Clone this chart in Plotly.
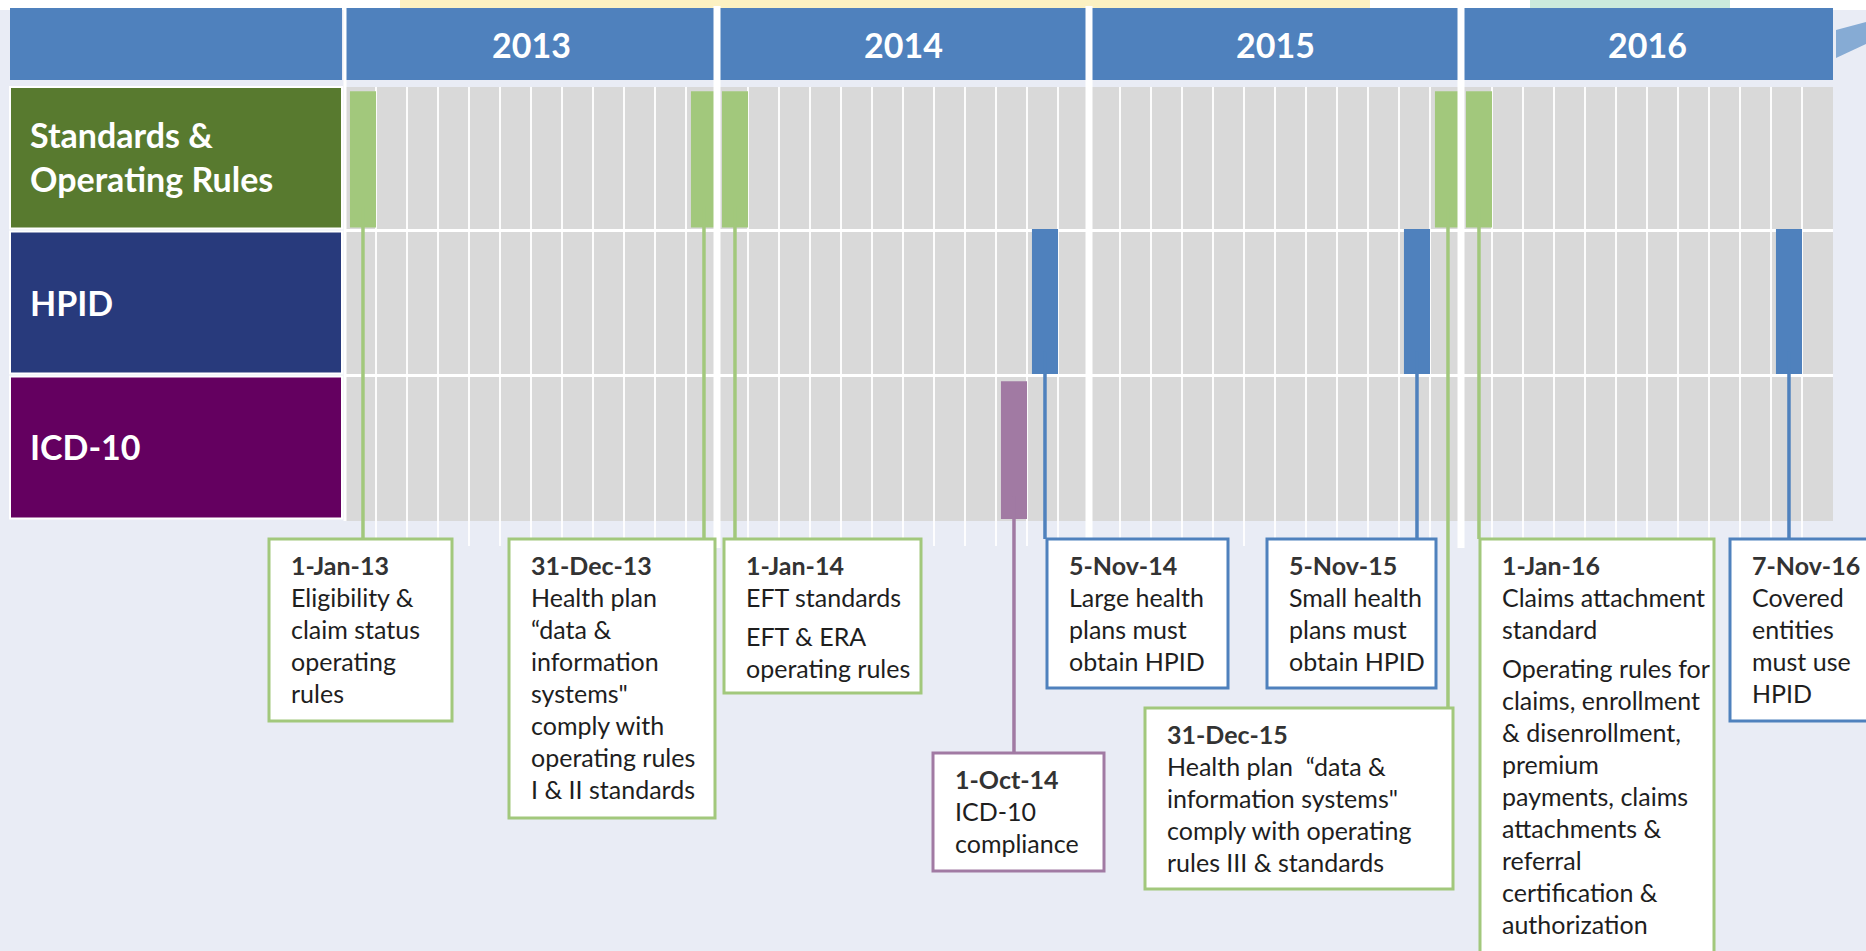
import plotly.graph_objects as go
from datetime import date

W, H = 1866, 951

# ---------------- data ----------------
years = [2013, 2014, 2015, 2016]
categories = ["Standards &<br>Operating Rules", "HPID", "ICD-10"]
category_colors = ["#587A2F", "#283A7C", "#640060"]
bar_colors = ["#A2C87C", "#4F81BD", "#A17AA3"]

event_dates = ["2013-01-01", "2013-12-31", "2014-01-01", "2014-10-01", "2014-11-05",
               "2015-11-05", "2015-12-31", "2016-01-01", "2016-11-07"]
event_labels = ["1-Jan-13", "31-Dec-13", "1-Jan-14", "1-Oct-14", "5-Nov-14",
                "5-Nov-15", "31-Dec-15", "1-Jan-16", "7-Nov-16"]
event_category = [0, 0, 0, 2, 1, 1, 0, 0, 1]
event_text = [
    [["Eligibility &", "claim status", "operating", "rules"]],
    [["Health plan", "\u201cdata &", "information", "systems\"", "comply with", "operating rules", "I & II standards"]],
    [["EFT standards"], ["EFT & ERA", "operating rules"]],
    [["ICD-10", "compliance"]],
    [["Large health", "plans must", "obtain HPID"]],
    [["Small health", "plans must", "obtain HPID"]],
    [["Health plan\u00a0 \u201cdata &", "information systems\"", "comply with operating", "rules III & standards"]],
    [["Claims attachment", "standard"],
     ["Operating rules for", "claims, enrollment", "& disenrollment,", "premium", "payments, claims",
      "attachments &", "referral", "certification &", "authorization"]],
    [["Covered", "entities", "must use", "HPID"]],
]

# ---------------- layout constants (pixels / styling) ----------------
X0_PX, PX_PER_MONTH = 345, 31          # Jan 2013 left edge, month width
ROW0_PX, ROW_PITCH = 158, 145           # first row centre, row pitch
HEADER_TOP, HEADER_BOT = 8, 80
GRID_TOP, GRID_BOT = 87, 521
LABEL_X0, LABEL_X1 = 10, 342
BAR_OFFSET, BAR_WIDTH = 0.58, 0.84      # bar centre within its month, bar width (months)
bar_top = [-0.46, -0.51, -0.46]         # bar top relative to row centre (rows)
bar_len = [0.94, 1.0, 0.95]
box_px = [(269, 539, 452, 721), (509, 539, 715, 818), (724, 539, 921, 693),
          (933, 753, 1104, 871), (1047, 539, 1228, 688), (1267, 539, 1436, 688),
          (1145, 708, 1453, 889), (1480, 539, 1714, 975), (1730, 539, 1885, 721)]
LINE_H, PARA_GAP, PAD_X, PAD_TOP = 32, 7, 20, 26

FONT = "Lato, Calibri, 'Open Sans', sans-serif"
BG = "#E9ECF5"


def px(xp):
    return xp / W


def py(yp):
    return 1 - yp / H


def month_index(d):
    dt = date.fromisoformat(d)
    return (dt.year - years[0]) * 12 + (dt.month - 1)


fig = go.Figure()
shapes = []
annotations = []

# background top strip and decorations
shapes.append(dict(type="rect", xref="paper", yref="paper", x0=0, x1=1, y0=py(0), y1=py(10),
                   fillcolor="white", line_width=0, layer="below"))
shapes.append(dict(type="rect", xref="paper", yref="paper", x0=px(400), x1=px(1370), y0=py(0), y1=py(10),
                   fillcolor="#FBEBA8", line_width=0, layer="below", opacity=0.7))
shapes.append(dict(type="rect", xref="paper", yref="paper", x0=px(1530), x1=px(1730), y0=py(0), y1=py(10),
                   fillcolor="#A8DCC4", line_width=0, layer="below", opacity=0.6))
shapes.append(dict(type="path", xref="paper", yref="paper",
                   path=f"M {px(1836)} {py(30)} L {px(1866)} {py(22)} L {px(1866)} {py(44)} L {px(1836)} {py(58)} Z",
                   fillcolor="#86ABD4", line_width=0, layer="below"))

# header: blank left cell + year cells
shapes.append(dict(type="rect", xref="paper", yref="paper", x0=px(LABEL_X0), x1=px(LABEL_X1),
                   y0=py(HEADER_TOP), y1=py(HEADER_BOT), fillcolor="#4F81BD", line_width=0, layer="below"))
for i, yr in enumerate(years):
    shapes.append(dict(type="rect", xref="x", yref="paper", x0=i * 12, x1=(i + 1) * 12,
                       y0=py(HEADER_TOP), y1=py(HEADER_BOT), fillcolor="#4F81BD", line_width=0, layer="below"))
    annotations.append(dict(x=i * 12 + 6, y=py((HEADER_TOP + HEADER_BOT) / 2), xref="x", yref="paper",
                            text=f"<b>{yr}</b>", showarrow=False, xanchor="center", yanchor="middle",
                            font=dict(family=FONT, size=34, color="white")))

# grid background
shapes.append(dict(type="rect", xref="x", yref="paper", x0=0, x1=len(years) * 12,
                   y0=py(GRID_TOP), y1=py(GRID_BOT), fillcolor="#D9D9D9", line_width=0, layer="below"))
# month lines
for m in range(1, len(years) * 12):
    if m % 12 == 0:
        continue
    shapes.append(dict(type="line", xref="x", yref="paper", x0=m, x1=m, y0=py(GRID_TOP), y1=py(546),
                       line=dict(color="rgba(255,255,255,0.9)", width=2), layer="below"))

# row label cells and horizontal row separators
for r, (cat, col) in enumerate(zip(categories, category_colors)):
    top = ROW0_PX + ROW_PITCH * r - ROW_PITCH / 2 + 1
    bot = ROW0_PX + ROW_PITCH * r + ROW_PITCH / 2 - 2
    top = max(top, GRID_TOP)
    bot = min(bot, GRID_BOT)
    shapes.append(dict(type="rect", xref="paper", yref="paper", x0=px(LABEL_X0), x1=px(LABEL_X1),
                       y0=py(top), y1=py(bot), fillcolor=col, line=dict(color="white", width=2), layer="below"))
    annotations.append(dict(x=px(28), y=py(ROW0_PX + ROW_PITCH * r - 1), xref="paper", yref="paper",
                            text=f"<b>{cat}</b>", showarrow=False, xanchor="left", yanchor="middle", align="left",
                            font=dict(family=FONT, size=34, color="white")))
    if r > 0:
        ysep = ROW0_PX + ROW_PITCH * r - ROW_PITCH / 2
        shapes.append(dict(type="line", xref="x", yref="paper", x0=0, x1=len(years) * 12,
                           y0=py(ysep), y1=py(ysep), line=dict(color="white", width=3), layer="below"))

# milestone bars (traces)
for c in range(len(categories)):
    xs = [month_index(d) + BAR_OFFSET for d, ec in zip(event_dates, event_category) if ec == c]
    fig.add_trace(go.Bar(x=xs, y=[bar_len[c]] * len(xs), base=[c + bar_top[c]] * len(xs), width=BAR_WIDTH,
                         marker=dict(color=bar_colors[c], line_width=0), showlegend=False,
                         hoverinfo="skip"))

# year separators (thick white)
for i in range(1, len(years)):
    shapes.append(dict(type="line", xref="x", yref="paper", x0=i * 12, x1=i * 12,
                       y0=py(HEADER_TOP - 2), y1=py(548), line=dict(color="white", width=7), layer="above"))
shapes.append(dict(type="line", xref="x", yref="paper", x0=0, x1=0,
                   y0=py(HEADER_TOP - 2), y1=py(GRID_BOT), line=dict(color="white", width=3), layer="above"))

# connectors, boxes, text
for k, d in enumerate(event_dates):
    c = event_category[k]
    col = bar_colors[c]
    bx0, by0, bx1, by1 = box_px[k]
    xm = month_index(d) + BAR_OFFSET
    start = ROW0_PX + ROW_PITCH * c + ROW_PITCH / 2 - 24
    shapes.append(dict(type="line", xref="x", yref="paper", x0=xm, x1=xm, y0=py(start), y1=py(by0),
                       line=dict(color=col, width=3.5), layer="above"))
    shapes.append(dict(type="rect", xref="paper", yref="paper", x0=px(bx0), x1=px(bx1), y0=py(by0), y1=py(by1),
                       fillcolor="white", line=dict(color=col, width=3), layer="above"))
    yline = by0 + PAD_TOP
    annotations.append(dict(x=px(bx0 + PAD_X), y=py(yline), xref="paper", yref="paper",
                            text=f"<b>{event_labels[k]}</b>", showarrow=False, xanchor="left", yanchor="middle",
                            font=dict(family=FONT, size=25, color="#333333")))
    for pi, para in enumerate(event_text[k]):
        if pi > 0:
            yline += PARA_GAP
        for line in para:
            yline += LINE_H
            annotations.append(dict(x=px(bx0 + PAD_X), y=py(yline), xref="paper", yref="paper",
                                    text=line, showarrow=False, xanchor="left", yanchor="middle",
                                    font=dict(family=FONT, size=25, color="#1E1E1E")))

fig.update_layout(
    width=W, height=H, margin=dict(l=0, r=0, t=0, b=0),
    paper_bgcolor=BG, plot_bgcolor=BG, barmode="overlay",
    xaxis=dict(range=[(0 - X0_PX) / PX_PER_MONTH, (W - X0_PX) / PX_PER_MONTH], visible=False, fixedrange=True),
    yaxis=dict(range=[(H - ROW0_PX) / ROW_PITCH, (0 - ROW0_PX) / ROW_PITCH], visible=False, fixedrange=True),
    shapes=shapes, annotations=annotations, showlegend=False,
)

fig.write_html("out.html", config={"displayModeBar": False},
               post_script="document.body.style.margin='0';document.body.style.overflow='hidden';")
